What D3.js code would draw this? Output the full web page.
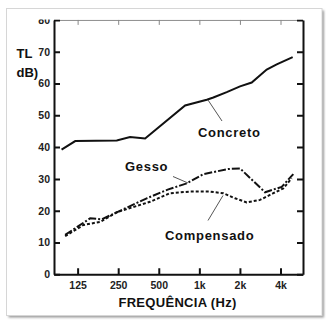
<!DOCTYPE html>
<html lang="pt">
<head>
    <meta charset="UTF-8">
    <title>Perda de transmissão</title>
    <script src="https://d3js.org/d3.v7.min.js"></script>
    <style>
        body { margin: 0; background: #fff; }
        svg { display: block; font-family: "Liberation Sans", Arial, sans-serif; }
    </style>
</head>
<body>
    <div id="chart"></div>

    <script>
        // valores: [frequência Hz, TL dB]
        const concreto = [[95, 39.2], [120, 41.9], [244, 42.1], [306, 43.2], [396, 42.7], [784, 53.1],
            [1135, 54.9], [1270, 55.6], [1597, 57.3], [2004, 59.1], [2446, 60.3], [3160, 64.4], [3750, 66], [4925, 68.3]];
        const gesso = [[101, 12.4], [155, 17.6], [189, 17.3], [244, 19.5], [407, 23.9], [589, 26.7], [807, 28.6],
            [1070, 31.5], [1640, 33.1], [2004, 33.3], [3070, 25.8], [4084, 27.5], [4977, 31.5]];
        const compensado = [[101, 12], [138, 15.5], [184, 16.5], [244, 19.5], [431, 22.8], [606, 25.5], [853, 26],
            [1200, 26], [1506, 25.5], [1840, 23.9], [2246, 22.6], [2819, 23.4], [3538, 25.5], [4196, 27], [4844, 30.2]];
        const freqTicks = [125, 250, 500, 1000, 2000, 4000];
        const freqLabels = ["125", "250", "500", "1k", "2k", "4k"];
        const dbTicks = [0, 10, 20, 30, 40, 50, 60, 70, 80];

        const width = 331, height = 326;

        const svg = d3.select("#chart").append("svg")
            .attr("width", width)
            .attr("height", height);

        // cartão com sombra
        const defs = svg.append("defs");
        defs.append("filter").attr("id", "blur")
            .append("feGaussianBlur").attr("stdDeviation", 0.9);
        defs.append("clipPath").attr("id", "crop")
            .append("rect").attr("x", 7).attr("y", 19.4).attr("width", 315).attr("height", 296);

        svg.append("rect")
            .attr("x", 8.5).attr("y", 10.5).attr("width", 315.5).attr("height", 307)
            .attr("fill", "#9a9a9a")
            .attr("filter", "url(#blur)");
        svg.append("rect")
            .attr("x", 6.5).attr("y", 8.5).attr("width", 315.5).attr("height", 307)
            .attr("fill", "#fff")
            .attr("stroke", "#d6d6d6").attr("stroke-width", 1);

        const g = svg.append("g").attr("clip-path", "url(#crop)");

        const x = d3.scaleLog().base(2).domain([83.5, 5874]).range([54, 303]);
        const y = d3.scaleLinear().domain([0, 80]).range([274.3, 19.9]);

        // eixos
        const axisTop = g.append("g")
            .attr("transform", `translate(0,${y(80)})`)
            .call(d3.axisTop(x).tickValues(freqTicks).tickSize(-5).tickSizeOuter(0).tickFormat(""));
        axisTop.selectAll("path,line").attr("stroke", "#888").attr("stroke-width", 1);

        const axisRight = g.append("g")
            .attr("transform", `translate(${x.range()[1]},0)`)
            .call(d3.axisRight(y).tickValues(dbTicks).tickSize(-6).tickSizeOuter(0).tickFormat(""));
        axisRight.selectAll("path,line").attr("stroke", "#111").attr("stroke-width", 2);

        const axisBottom = g.append("g")
            .attr("transform", `translate(0,${y(0)})`)
            .call(d3.axisBottom(x).tickValues(freqTicks).tickSize(-6).tickSizeOuter(0).tickPadding(7)
                .tickFormat((d, i) => freqLabels[i]));
        axisBottom.selectAll("path,line").attr("stroke", "#111").attr("stroke-width", 2);

        const axisLeft = g.append("g")
            .attr("transform", `translate(${x.range()[0]},0)`)
            .call(d3.axisLeft(y).tickValues(dbTicks).tickSize(-6).tickSizeOuter(0).tickPadding(4));
        axisLeft.selectAll("path,line").attr("stroke", "#111").attr("stroke-width", 2);

        g.selectAll(".tick text")
            .attr("font-family", "Liberation Sans, Arial, sans-serif")
            .attr("font-size", 10.5)
            .attr("font-weight", "bold")
            .attr("fill", "#222");

        // curvas
        const line = d3.line().x(d => x(d[0])).y(d => y(d[1]));

        g.append("path").datum(concreto)
            .attr("d", line).attr("fill", "none")
            .attr("stroke", "#111").attr("stroke-width", 2);

        g.append("path").datum(gesso)
            .attr("d", line).attr("fill", "none")
            .attr("stroke", "#111").attr("stroke-width", 2)
            .attr("stroke-dasharray", "8,2,2,2");

        g.append("path").datum(compensado)
            .attr("d", line).attr("fill", "none")
            .attr("stroke", "#111").attr("stroke-width", 2)
            .attr("stroke-dasharray", "3,2");

        // rótulos e linhas de chamada
        const labels = [
            { text: "Concreto", x: 198, y: 132, from: [208, 100], to: [222, 121] },
            { text: "Gesso", x: 125, y: 166, from: [188, 183], to: [173, 176.5] },
            { text: "Compensado", x: 165, y: 235.5, from: [223, 195.5], to: [208, 220.5] }
        ];
        labels.forEach(l => {
            g.append("line")
                .attr("x1", l.from[0]).attr("y1", l.from[1])
                .attr("x2", l.to[0]).attr("y2", l.to[1])
                .attr("stroke", "#555").attr("stroke-width", 1);
            g.append("text")
                .attr("x", l.x).attr("y", l.y).attr("dy", "0.35em")
                .attr("font-size", 13).attr("font-weight", "bold")
                .attr("letter-spacing", 0.7)
                .attr("fill", "#111")
                .text(l.text);
        });

        g.append("text")
            .attr("x", 16.5).attr("y", 53).attr("dy", "0.35em")
            .attr("font-size", 13).attr("font-weight", "bold").attr("fill", "#111")
            .text("TL");
        g.append("text")
            .attr("x", 16.5).attr("y", 72).attr("dy", "0.35em")
            .attr("font-size", 13).attr("font-weight", "bold").attr("fill", "#111")
            .text("dB)");

        g.append("text")
            .attr("x", 177.5).attr("y", 302).attr("dy", "0.35em")
            .attr("text-anchor", "middle")
            .attr("font-size", 13).attr("font-weight", "bold").attr("fill", "#111")
            .attr("letter-spacing", 0.3)
            .text("FREQUÊNCIA (Hz)");
    </script>
</body>
</html>
